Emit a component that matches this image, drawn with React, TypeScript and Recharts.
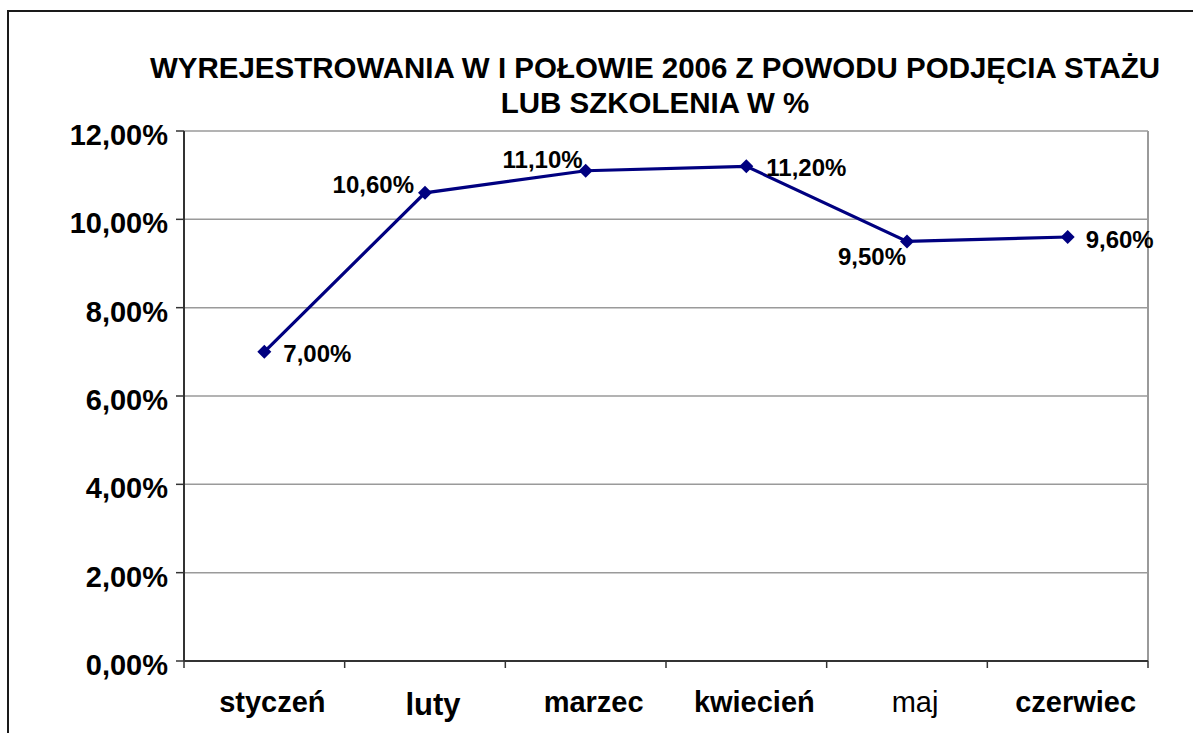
import { LineChart, Line, XAxis, YAxis, CartesianGrid, ReferenceLine, LabelList } from "recharts";

const months = ["styczeń", "luty", "marzec", "kwiecień", "maj", "czerwiec"];
const shares = [7.0, 10.6, 11.1, 11.2, 9.5, 9.6];
const yTicks = [0, 2, 4, 6, 8, 10, 12];
const titleLines = ["WYREJESTROWANIA W I POŁOWIE 2006 Z POWODU PODJĘCIA STAŻU", "LUB SZKOLENIA W %"];

const data = months.map((month, i) => ({ x: i + 0.5, month, value: shares[i] }));
const xTicks = [0, 0.5, 1, 1.5, 2, 2.5, 3, 3.5, 4, 4.5, 5, 5.5, 6];

const FONT = '"Liberation Sans", Arial, sans-serif';
const NAVY = "#000080";
const AXIS = "#333333";
const GRID = "#9a9a9a";

const pct = (v: number) => v.toFixed(2).replace(".", ",") + "%";

// where Excel put each data label, relative to its marker
const labelPlacement = [
  { anchor: "start", dx: 19, dy: 2 },
  { anchor: "end", dx: -11, dy: -8 },
  { anchor: "end", dx: -3, dy: -11 },
  { anchor: "start", dx: 20, dy: 1 },
  { anchor: "end", dx: -1, dy: 15 },
  { anchor: "start", dx: 18, dy: 2 },
];

const MonthTick = ({ x, y, payload }: any) => {
  const v = payload.value;
  if (Number.isInteger(v)) {
    return <line x1={x} x2={x} y1={y} y2={y + 7} stroke={AXIS} strokeWidth={1.5} />;
  }
  const label = months[Math.round(v - 0.5)];
  const regular = label === "maj";
  const big = label === "luty";
  return (
    <text
      x={x + 8}
      y={y + (big ? 54 : 51)}
      textAnchor="middle"
      fontFamily={FONT}
      fontSize={big ? 31 : 29}
      fontWeight={regular ? "normal" : "bold"}
      fill="#000"
    >
      {label}
    </text>
  );
};

const ShareTick = ({ x, y, payload }: any) => (
  <text x={x} y={y + 14} textAnchor="end" fontFamily={FONT} fontSize={29} fontWeight="bold" fill="#000">
    {pct(payload.value)}
  </text>
);

const Diamond = ({ cx, cy }: any) => {
  if (cx == null || cy == null) return null;
  const r = 7;
  return <polygon points={`${cx},${cy - r} ${cx + r},${cy} ${cx},${cy + r} ${cx - r},${cy}`} fill={NAVY} />;
};

const ValueLabel = ({ x, y, value, index }: any) => {
  const p = labelPlacement[index];
  return (
    <text
      x={x + p.dx}
      y={y + p.dy + 8.5}
      textAnchor={p.anchor}
      fontFamily={FONT}
      fontSize={24}
      fontWeight="bold"
      fill="#000"
    >
      {pct(value)}
    </text>
  );
};

export default function App() {
  return (
    <div style={{ position: "fixed", left: 0, top: 0, width: 1193, height: 733, background: "#fff", overflow: "hidden" }}>
      <div
        style={{
          position: "absolute",
          left: 7,
          top: 10,
          width: 1300,
          height: 800,
          borderLeft: "2px solid #1a1a1a",
          borderTop: "2px solid #1a1a1a",
        }}
      />
      <div
        style={{
          position: "absolute",
          left: 0,
          top: 50,
          width: 1310,
          textAlign: "center",
          fontFamily: FONT,
          fontWeight: "bold",
          fontSize: 29.5,
          lineHeight: "35px",
          whiteSpace: "nowrap",
          color: "#000",
        }}
      >
        {titleLines.map((t) => (
          <div key={t}>{t}</div>
        ))}
      </div>
      <div style={{ position: "absolute", left: 0, top: 0 }}>
        <LineChart width={1193} height={733} data={data} margin={{ top: 131, right: 45, bottom: 0, left: 0 }}>
          <CartesianGrid horizontal vertical={false} stroke={GRID} strokeWidth={1.5} />
          <XAxis
            dataKey="x"
            type="number"
            domain={[0, 6]}
            ticks={xTicks}
            interval={0}
            height={72}
            tickLine={false}
            tickSize={0}
            tickMargin={0}
            axisLine={{ stroke: AXIS, strokeWidth: 2 }}
            tick={<MonthTick />}
          />
          <YAxis
            type="number"
            domain={[0, 12]}
            ticks={yTicks}
            interval={0}
            width={184}
            tickSize={8}
            tickMargin={8}
            tickLine={{ stroke: AXIS, strokeWidth: 1.5 }}
            axisLine={{ stroke: AXIS, strokeWidth: 2 }}
            tick={<ShareTick />}
          />
          <ReferenceLine x={6} stroke={GRID} strokeWidth={2} />
          <Line
            type="linear"
            dataKey="value"
            stroke={NAVY}
            strokeWidth={3.2}
            dot={<Diamond />}
            activeDot={false}
            isAnimationActive={false}
          >
            <LabelList dataKey="value" content={<ValueLabel />} />
          </Line>
        </LineChart>
      </div>
    </div>
  );
}
